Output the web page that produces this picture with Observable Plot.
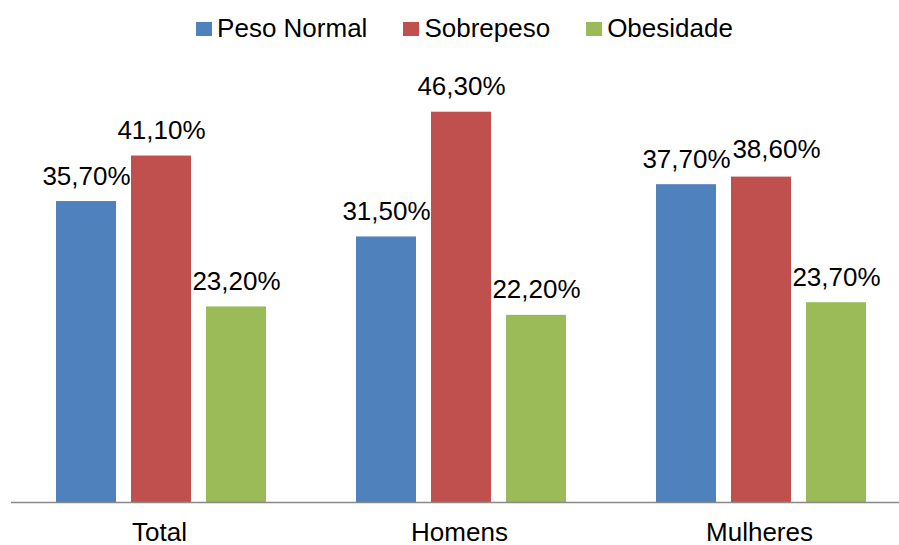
<!DOCTYPE html>
<html>
<head>
<meta charset="utf-8">
<script src="https://cdn.jsdelivr.net/npm/d3@7"></script>
<script src="https://cdn.jsdelivr.net/npm/@observablehq/plot@0.6"></script>
<style>
  body { margin: 0; background: #fff; font-family: "Liberation Sans", Arial, sans-serif; }
  #legend { height: 50px; display: flex; justify-content: center; align-items: center; padding-left: 30px; box-sizing: border-box; font-size: 26px; color: #000; padding-top: 6px; }
  .item { display: flex; align-items: center; margin: 0 18px; }
  .sw { width: 16px; height: 14px; margin-right: 5px; margin-top: 2px; }
  svg { display: block; }
</style>
</head>
<body>
<div id="legend"></div>
<div id="chart"></div>
<script>
const groups = ["Total", "Homens", "Mulheres"];
const series = ["Peso Normal", "Sobrepeso", "Obesidade"];
const colors = ["#4F81BD", "#C0504D", "#9BBB59"];
const pesoNormal = [35.7, 31.5, 37.7];
const sobrepeso = [41.1, 46.3, 38.6];
const obesidade = [23.2, 22.2, 23.7];

const valuesBySeries = [pesoNormal, sobrepeso, obesidade];
const data = [];
groups.forEach((g, gi) => {
  series.forEach((s, si) => {
    data.push({group: g, series: s, value: valuesBySeries[si][gi]});
  });
});
const fmt = v => v.toFixed(2).replace(".", ",") + "%";
// Excel nudges the crowded Mulheres/Sobrepeso label to the right
const isNudged = d => d.group === "Mulheres" && d.series === "Sobrepeso";

const legend = document.getElementById("legend");
series.forEach((s, i) => {
  const it = document.createElement("div");
  it.className = "item";
  it.innerHTML = `<div class="sw" style="background:${colors[i]}"></div><span>${s}</span>`;
  legend.appendChild(it);
});

const labelOpts = {fx: "group", x: "series", y: "value", text: d => fmt(d.value), lineAnchor: "bottom", dy: -17, fontSize: 26, fill: "#000"};

const chart = Plot.plot({
  width: 899,
  height: 495,
  marginLeft: 10,
  marginRight: 0,
  marginTop: 30.5,
  marginBottom: 43,
  style: {fontFamily: "'Liberation Sans', Arial, sans-serif", color: "#000", background: "#fff"},
  fx: {domain: groups, range: [10, 911], padding: 0, axis: null},
  x: {domain: series, paddingInner: 0.2, paddingOuter: 0.6, axis: null},
  y: {domain: [0, 50], axis: null},
  color: {domain: series, range: colors},
  marks: [
    Plot.barY(data, {fx: "group", x: "series", y: "value", fill: "series"}),
    Plot.ruleY([0], {stroke: "#898989", strokeWidth: 1.5}),
    Plot.text(data.filter(d => !isNudged(d)), labelOpts),
    Plot.text(data.filter(isNudged), {...labelOpts, dx: 15, dy: -19}),
    Plot.text(groups, {fx: d => d, text: d => d, frameAnchor: "bottom", lineAnchor: "bottom", dy: 38, dx: -2, fontSize: 26, fill: "#000"})
  ]
});
document.getElementById("chart").appendChild(chart);
</script>
</body>
</html>
